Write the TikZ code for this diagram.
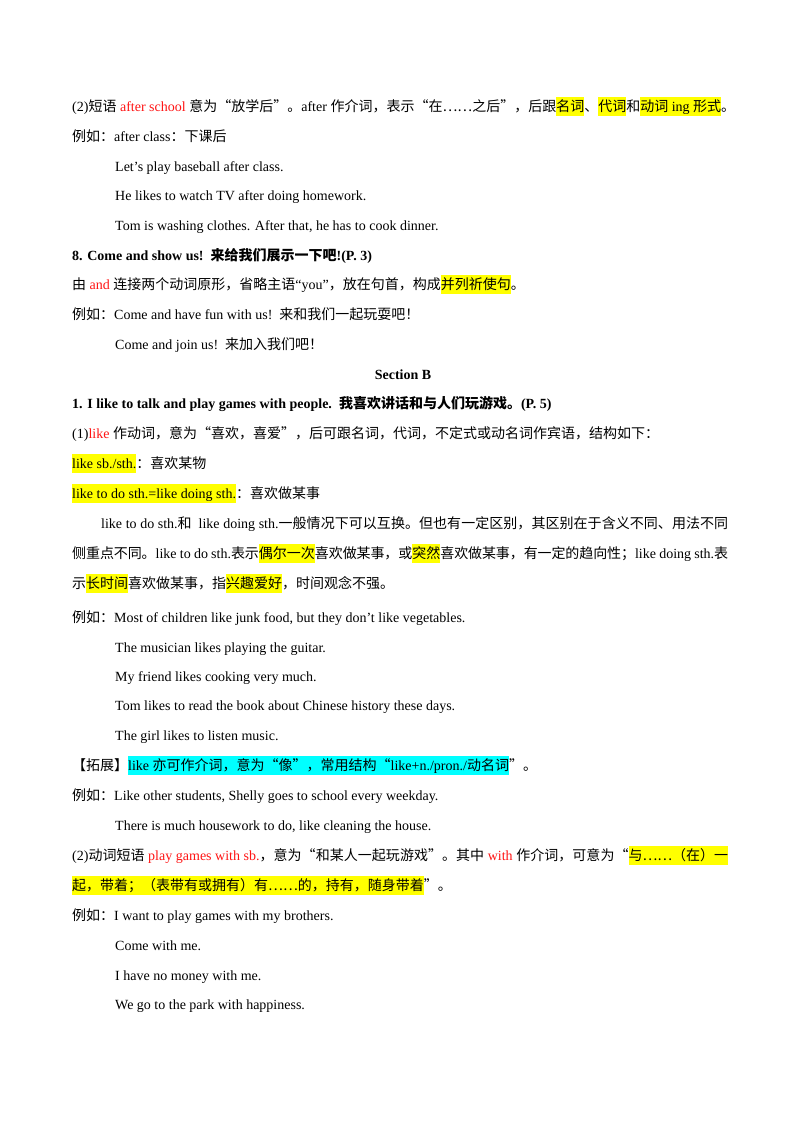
\documentclass[tikz,border=0pt]{standalone}
\usepackage{fontspec}
\setmainfont{Liberation Serif}
\newfontfamily\zhfont{Noto Sans CJK SC}
\usepackage{xcolor}

\definecolor{hlyellow}{RGB}{255,255,0}
\definecolor{hlcyan}{RGB}{0,255,255}
\definecolor{keyred}{RGB}{255,20,20}

% highlight marks and red key words
\newcommand{\hly}[1]{{\setlength{\fboxsep}{0pt}\colorbox{hlyellow}{\rule[-5pt]{0pt}{19pt}#1}}}
\newcommand{\hlc}[1]{{\setlength{\fboxsep}{0pt}\colorbox{hlcyan}{\rule[-5pt]{0pt}{19pt}#1}}}
\newcommand{\kw}[1]{\textcolor{keyred}{#1}}

% Chinese characters switch to the CJK font by themselves
\XeTeXinterchartokenstate=1
\newXeTeXintercharclass\zhclass
\newcount\zhc
\zhc="2E80 \loop \XeTeXcharclass\zhc=\zhclass \advance\zhc by 1 \ifnum\zhc<"A000 \repeat
\zhc="FF00 \loop \XeTeXcharclass\zhc=\zhclass \advance\zhc by 1 \ifnum\zhc<"FFF0 \repeat
\XeTeXcharclass"201C=\zhclass
\XeTeXcharclass"201D=\zhclass
\XeTeXcharclass"22EF=\zhclass
\XeTeXinterchartoks 0 \zhclass = {\zhfont}
\XeTeXinterchartoks 4095 \zhclass = {\zhfont}
\XeTeXinterchartoks \zhclass 0 = {\rmfamily}
\XeTeXinterchartoks \zhclass 4095 = {\rmfamily}
\XeTeXinterchartoks \zhclass \zhclass = {\hskip 0pt plus 1pt minus 0.4pt}

\begin{document}
\begin{tikzpicture}[x=1pt, y=-1pt,
  line/.style={anchor=base west, inner sep=0pt, font=\fontsize{14}{17}\selectfont},
  head/.style={line, font=\fontsize{14}{17}\selectfont\bfseries}]
\path[fill=white] (0,0) rectangle (800,1132);

% after school
\node[line] (p1) at (72,111) {\makebox[663pt][s]{(2)短语 \kw{after school} 意为“放学后”。after 作介词，表示“在⋯⋯之后”，后跟\hly{名词}、\hly{代词}和\hly{动词 ing 形式}。}};
\node[line] (e1) at (72,141) {例如：after class：下课后};
\node[line] (e1a) at (115,171) {Let’s play baseball after class.};
\node[line] (e1b) at (115,200) {He likes to watch TV after doing homework.};
\node[line] (e1c) at (115,230) {Tom is washing clothes. After that, he has to cook dinner.};

% Come and show us
\node[head] (h8) at (72,260) {8. Come and show us!\hspace{7pt}来给我们展示一下吧!(P. 3)};
\node[line] (p8) at (72,289) {由 \kw{and} 连接两个动词原形，省略主语``you''，放在句首，构成\hly{并列祈使句}。};
\node[line] (e8) at (72,319) {例如：Come and have fun with us!\hspace{7pt}来和我们一起玩耍吧！};
\node[line] (e8a) at (115,349) {Come and join us!\hspace{7pt}来加入我们吧！};

% Section B
\node[head, anchor=base] (secb) at (403,379) {Section B};
\node[head] (h1) at (72,408) {1. I like to talk and play games with people.\hspace{7pt}我喜欢讲话和与人们玩游戏。(P. 5)};
\node[line] (p1a) at (72,438) {(1)\kw{like} 作动词，意为“喜欢，喜爱”，后可跟名词，代词，不定式或动名词作宾语，结构如下：};
\node[line] (s1) at (72,468) {\hly{like sb./sth.}：喜欢某物};
\node[line] (s2) at (72,498) {\hly{like to do sth.=like doing sth.}：喜欢做某事};
\node[line] (n1) at (101,528) {\makebox[627pt][s]{like to do sth.和\hspace{7pt}like doing sth.一般情况下可以互换。但也有一定区别，其区别在于含义不同、用法不同}};
\node[line] (n2) at (72,558) {\makebox[656pt][s]{侧重点不同。like to do sth.表示\hly{偶尔一次}喜欢做某事，或\hly{突然}喜欢做某事，有一定的趋向性；like doing sth.表}};
\node[line] (n3) at (72,588) {示\hly{长时间}喜欢做某事，指\hly{兴趣爱好}，时间观念不强。};
\node[line] (e2) at (72,622) {例如：Most of children like junk food, but they don’t like vegetables.};
\node[line] (e2a) at (115,652) {The musician likes playing the guitar.};
\node[line] (e2b) at (115,681) {My friend likes cooking very much.};
\node[line] (e2c) at (115,710) {Tom likes to read the book about Chinese history these days.};
\node[line] (e2d) at (115,740) {The girl likes to listen music.};
\node[line] (ext) at (72,770) {【拓展】\hlc{like 亦可作介词，意为“像”，常用结构“like+n./pron./动名词}”。};
\node[line] (e3) at (72,800) {例如：Like other students, Shelly goes to school every weekday.};
\node[line] (e3a) at (115,830) {There is much housework to do, like cleaning the house.};

% play games with sb.
\node[line] (p2) at (72,860) {\makebox[656pt][s]{(2)动词短语 \kw{play games with sb.}，意为“和某人一起玩游戏”。其中 \kw{with} 作介词，可意为“\hly{与⋯⋯（在）一}}};
\node[line] (p2a) at (72,890) {\hly{起，带着；（表带有或拥有）有⋯⋯的，持有，随身带着}”。};
\node[line] (e4) at (72,920) {例如：I want to play games with my brothers.};
\node[line] (e4a) at (115,950) {Come with me.};
\node[line] (e4b) at (115,980) {I have no money with me.};
\node[line] (e4c) at (115,1009) {We go to the park with happiness.};
\end{tikzpicture}
\end{document}
